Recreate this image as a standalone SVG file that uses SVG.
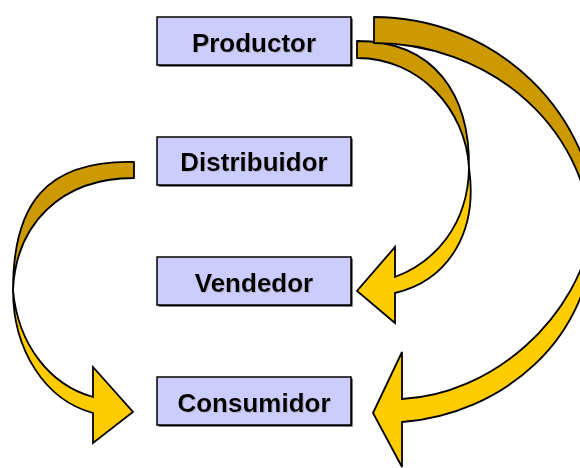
<svg xmlns="http://www.w3.org/2000/svg" width="580" height="468" viewBox="0 0 580 468">
  <defs>
    <filter id="txtShadow" x="-5%" y="-20%" width="110%" height="140%">
      <feDropShadow dx="1" dy="1" stdDeviation="0.3" flood-color="#999999" flood-opacity="0.5"/>
    </filter>
  </defs>
  <style>
    .box { fill: #CCCCFF; stroke: #000; stroke-width: 1.5; }
    .shadow { fill: #000; }
    .label { font-family: "Liberation Sans", Arial, sans-serif; font-weight: bold; font-size: 26px; fill: #000; text-anchor: middle; filter: url(#txtShadow); }
    .back { fill: #CC9900; stroke: #000; stroke-width: 1.8; stroke-linejoin: round; }
    .front { fill: #FFCC00; stroke: #000; stroke-width: 1.8; stroke-linejoin: miter; }
  </style>
  <rect width="580" height="468" fill="#fff"/>

  <g id="node-productor">
    <rect class="shadow" x="158.5" y="18.5" width="194" height="48"/>
    <rect class="box" x="157" y="17" width="194" height="48"/>
    <text class="label" x="254" y="51.5">Productor</text>
  </g>
  <g id="node-distribuidor">
    <rect class="shadow" x="158.5" y="138.5" width="194" height="48"/>
    <rect class="box" x="157" y="137" width="194" height="48"/>
    <text class="label" x="254" y="170.5">Distribuidor</text>
  </g>
  <g id="node-vendedor">
    <rect class="shadow" x="158.5" y="258.5" width="194" height="48"/>
    <rect class="box" x="157" y="257" width="194" height="48"/>
    <text class="label" x="254" y="291.5">Vendedor</text>
  </g>
  <g id="node-consumidor">
    <rect class="shadow" x="158.5" y="378.5" width="194" height="48"/>
    <rect class="box" x="157" y="377" width="194" height="48"/>
    <text class="label" x="254" y="411.5">Consumidor</text>
  </g>

  <g id="connectors">
    <g id="arrow-productor-vendedor">
      <path class="back" d="M 357,41 C 435,41 470,95 469,168 C 466,110 420,58 357,58 Z"/>
      <path class="front" d="M 469,168 C 478,230 450,280 395,293 L 395,323 L 357,291 L 395,247 L 395,277 C 435,262 468,225 469,168 Z"/>
    </g>
    <g id="arrow-productor-consumidor">
      <path class="back" d="M 374,17 A 224,220 0 0 1 598,237 L 591.5,243 A 217.5,200 0 0 0 374,43 Z"/>
      <path class="front" d="M 594,222 C 596,340 500,415 402,422 L 402,467 L 373,413 L 402,352 L 402,399 C 490,395 580,320 594,222 Z"/>
    </g>
    <g id="arrow-distribuidor-consumidor">
      <path class="back" d="M 134,162 C 45,160 13,205 13,290 C 16,225 60,178 134,178 Z"/>
      <path class="front" d="M 13,290 C 13,350 45,400 93,413 L 93,443 L 133,412 L 93,367 L 93,397 C 50,385 18,345 13,290 Z"/>
    </g>
  </g>
</svg>
